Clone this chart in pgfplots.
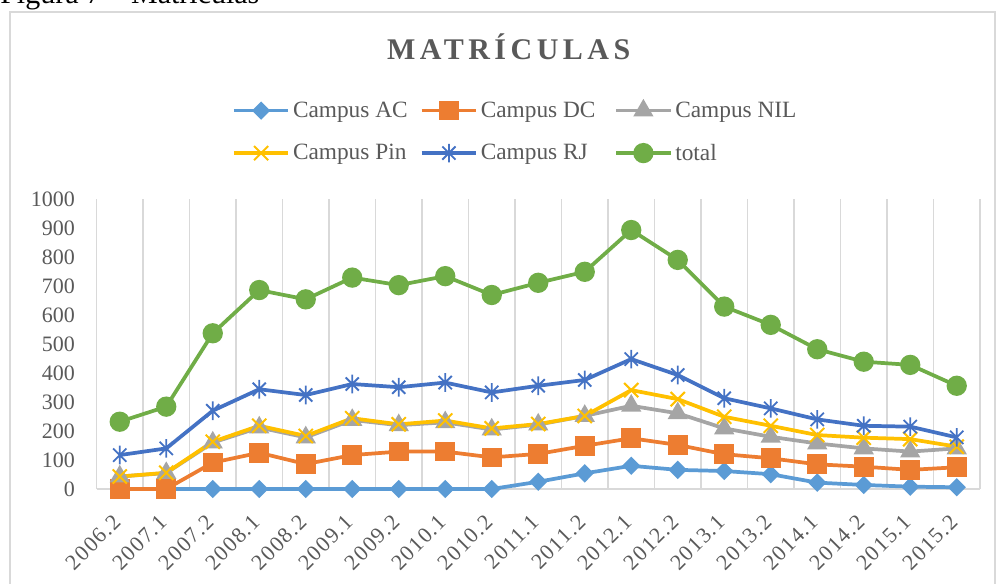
\documentclass[border=0pt]{standalone}
\usepackage{pgfplots}
\pgfplotsset{compat=1.18}
\usepackage{fontspec}
\setmainfont{Liberation Serif}
\newfontfamily\titlefont[LetterSpace=15]{Liberation Serif}
\newfontfamily\xlabfont[LetterSpace=6]{Liberation Serif}
\definecolor{cAC}{HTML}{5B9BD5}
\definecolor{cDC}{HTML}{ED7D31}
\definecolor{cNIL}{HTML}{A5A5A5}
\definecolor{cPin}{HTML}{FFC000}
\definecolor{cRJ}{HTML}{4472C4}
\definecolor{cTot}{HTML}{70AD47}
\definecolor{txt}{HTML}{595959}
\definecolor{gridc}{HTML}{D9D9D9}
\pgfdeclareplotmark{xstar}{%
  \pgfpathmoveto{\pgfqpoint{0pt}{\pgfplotmarksize}}%
  \pgfpathlineto{\pgfqpoint{0pt}{-\pgfplotmarksize}}%
  \pgfpathmoveto{\pgfqpoint{.7071\pgfplotmarksize}{.7071\pgfplotmarksize}}%
  \pgfpathlineto{\pgfqpoint{-.7071\pgfplotmarksize}{-.7071\pgfplotmarksize}}%
  \pgfpathmoveto{\pgfqpoint{-.7071\pgfplotmarksize}{.7071\pgfplotmarksize}}%
  \pgfpathlineto{\pgfqpoint{.7071\pgfplotmarksize}{-.7071\pgfplotmarksize}}%
  \pgfusepathqstroke}
\pgfplotstableread{
idx AC DC NIL Pin RJ Tot
0 0 0 43 43 117 232
1 0 0 55 56 140 284
2 0 91 160 163 270 537
3 0 125 212 218 344 686
4 0 86 178 183 324 654
5 0 117 238 244 362 729
6 0 129 220 223 351 703
7 0 129 230 236 367 734
8 0 109 205 209 333 669
9 25 121 222 224 356 711
10 54 149 252 252 376 749
11 80 175 287 341 448 893
12 66 152 261 310 393 790
13 62 120 209 249 313 629
14 51 106 180 218 278 566
15 22 85 157 186 240 482
16 14 77 140 177 218 439
17 8 66 129 172 215 428
18 6 75 140 146 178 356
}\datatable
\begin{document}
\begin{tikzpicture}
\useasboundingbox (0pt,0pt) rectangle (747pt,437.25pt);
\draw[gridc, line width=1.1pt] (7.5pt,428.25pt) rectangle (746.25pt,-15pt);
\node[anchor=base west, inner sep=0pt] at (0pt,434.25pt) {\fontsize{22.5}{27}\selectfont Figura 7 -- Matrículas};
\node[text=txt] at (381.5pt,402pt) {\titlefont\bfseries\fontsize{22.5}{27}\selectfont MATRÍCULAS};
\begin{axis}[
  at={(72.375pt,70.5pt)}, anchor=south west, scale only axis,
  width=662.6pt, height=217.5pt,
  xmin=-0.5, xmax=18.5, ymin=0, ymax=1000,
  xtick={0,...,18},
  xticklabels={2006.2,2007.1,2007.2,2008.1,2008.2,2009.1,2009.2,2010.1,2010.2,2011.1,2011.2,2012.1,2012.2,2013.1,2013.2,2014.1,2014.2,2015.1,2015.2},
  ytick={0,100,...,1000},
  minor xtick={-0.5,0.5,...,18.5},
  xminorgrids, minor grid style={gridc, line width=1.1pt},
  major tick length=0pt, minor tick length=0pt,
  axis x line*=bottom, axis y line*=left,
  x axis line style={gridc, line width=1.1pt, -},
  y axis line style={draw=none},
  /pgf/number format/assume math mode=true,
  /pgf/number format/1000 sep={},
  yticklabel style={anchor=east, inner sep=0pt, xshift=-16pt, text=txt, font=\fontsize{16.5}{20}\selectfont},
  xticklabel style={xshift=-1.9pt, yshift=-22pt, rotate=45, anchor=east, inner sep=0pt, text=txt, font=\xlabfont\fontsize{16.5}{20}\selectfont},
  clip=false,
  legend columns=3,
  legend cell align=left,
  legend style={at={(rel axis cs:0.153,1.345)}, anchor=north west, draw=none, fill=none,
    text=txt, font=\fontsize{17.5}{21}\selectfont, inner sep=0pt, row sep=14.5pt,
    /tikz/every even column/.append style={column sep=7pt},
    /tikz/every odd column/.append style={column sep=0pt}},
  legend image code/.code={\draw[#1, mark repeat=2, mark phase=2] plot coordinates {(0pt,0pt) (20.5pt,0pt) (41pt,0pt)};},
  every axis plot/.append style={line width=2.8pt},
]
\addplot[cAC, mark=diamond*, mark size=4.9pt, mark options={xscale=1.33, solid}] table[x=idx,y=AC] {\datatable};
\addlegendentry{Campus AC}
\addplot[cDC, mark=square*, mark size=6pt] table[x=idx,y=DC] {\datatable};
\addlegendentry{Campus DC\hspace*{5pt}}
\addplot[cNIL, mark=triangle*, mark size=6pt] table[x=idx,y=NIL] {\datatable};
\addlegendentry{Campus NIL}
\addplot[cPin, mark=x, mark size=7.5pt, mark options={line width=1.5pt}] table[x=idx,y=Pin] {\datatable};
\addlegendentry{Campus Pin}
\addplot[cRJ, mark=xstar, mark size=7pt, mark options={line width=1.4pt}] table[x=idx,y=RJ] {\datatable};
\addlegendentry{Campus RJ}
\addplot[cTot, mark=*, mark size=6.2pt] table[x=idx,y=Tot] {\datatable};
\addlegendentry{total}
\end{axis}
\end{tikzpicture}
\end{document}
